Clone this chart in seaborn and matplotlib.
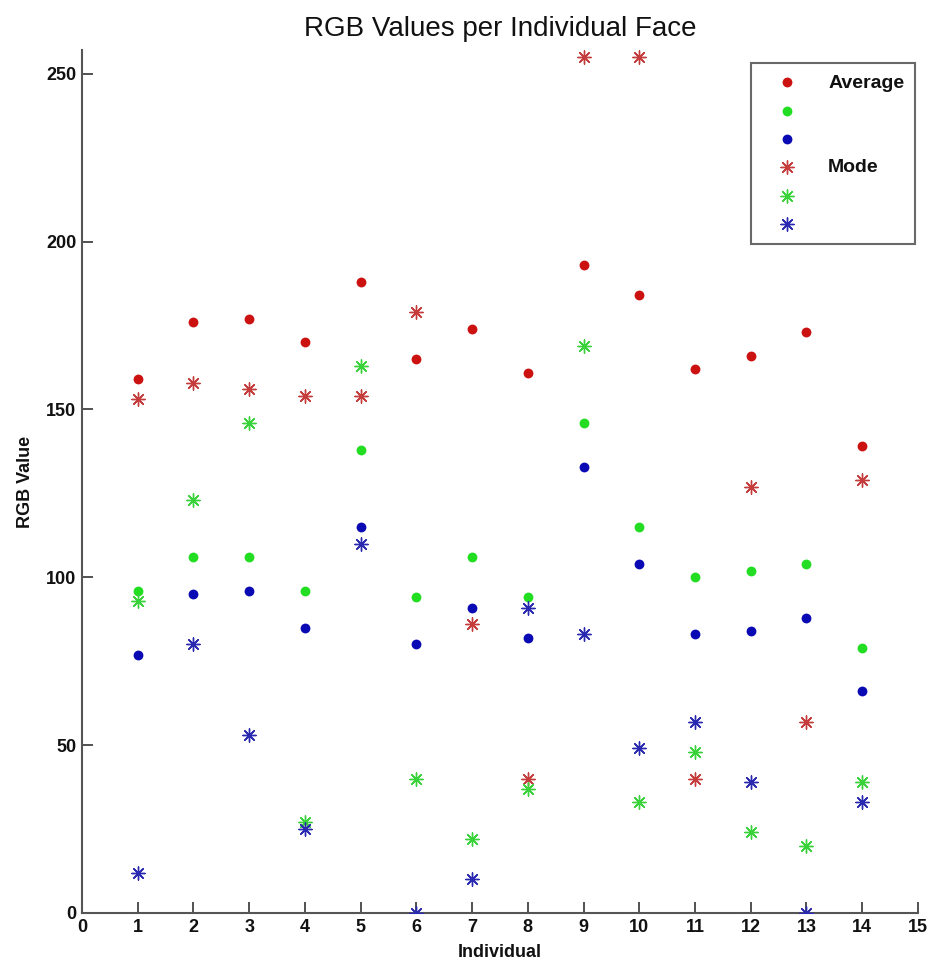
import matplotlib
matplotlib.use("Agg")
import matplotlib.pyplot as plt
import numpy as np
import seaborn as sns
import pandas as pd

# values
individuals = list(range(1, 15))
avg_r = [159, 176, 177, 170, 188, 165, 174, 161, 193, 184, 162, 166, 173, 139]
avg_g = [96, 106, 106, 96, 138, 94, 106, 94, 146, 115, 100, 102, 104, 79]
avg_b = [77, 95, 96, 85, 115, 80, 91, 82, 133, 104, 83, 84, 88, 66]
mode_r = [153, 158, 156, 154, 154, 179, 86, 40, 255, 255, 40, 127, 57, 129]
mode_g = [93, 123, 146, 27, 163, 40, 22, 37, 169, 33, 48, 24, 20, 39]
mode_b = [12, 80, 53, 25, 110, 0, 10, 91, 83, 49, 57, 39, 0, 33]
legend_labels = ["Average", "", "", "Mode", "", ""]

sns.set_style("white")
plt.rcParams['font.family'] = ['Liberation Sans', 'DejaVu Sans']
plt.rcParams['text.color'] = '#111111'

fig = plt.figure(figsize=(9.35, 9.66), dpi=100)
ax = fig.add_axes([0.0877, 0.0549, 0.894, 0.893])

dot_cols = ['#cc1111', '#22dd22', '#0a0ab4']
star_cols = ['#c43c3c', '#3ad23a', '#2a2ab0']
series = [(avg_r, 'o', dot_cols[0]), (avg_g, 'o', dot_cols[1]), (avg_b, 'o', dot_cols[2]),
          (mode_r, (8, 2, 0), star_cols[0]), (mode_g, (8, 2, 0), star_cols[1]),
          (mode_b, (8, 2, 0), star_cols[2])]

handles = []
for vals, mk, col in series:
    df = pd.DataFrame({'Individual': individuals, 'RGB Value': vals})
    if mk == 'o':
        sns.scatterplot(data=df, x='Individual', y='RGB Value', marker='o', color=col,
                        s=50, edgecolor=col, linewidth=0, ax=ax, zorder=3)
    else:
        sns.scatterplot(data=df, x='Individual', y='RGB Value', marker=mk, color=col,
                        s=90, linewidth=1.0, ax=ax, zorder=3)
    handles.append(ax.collections[-1])

ax.set_xlim(0, 15)
ax.set_ylim(0, 257)
ax.set_xticks(range(0, 16))
ax.set_yticks(range(0, 251, 50))
ax.tick_params(bottom=True, left=True, direction='in', length=8, width=1.2,
               color='#333333', labelsize=13, labelcolor='#111111', pad=4)
for lab in ax.get_xticklabels() + ax.get_yticklabels():
    lab.set_fontweight('bold')
for side in ['top', 'right']:
    ax.spines[side].set_visible(False)
for side in ['left', 'bottom']:
    ax.spines[side].set_color('#555555')
    ax.spines[side].set_linewidth(1.5)

ax.set_title("RGB Values per Individual Face", fontsize=20, pad=10, color='#111111')
ax.set_xlabel("Individual", fontsize=13, fontweight='bold', color='#111111')
ax.set_ylabel("RGB Value", fontsize=13, fontweight='bold', color='#111111')
ax.xaxis.set_label_coords(0.5, -0.036)
ax.yaxis.set_label_coords(-0.058, 0.5)

leg = ax.legend(handles, legend_labels, loc='upper right', bbox_to_anchor=(0.9964, 0.985),
                fancybox=False, frameon=True, prop={'weight': 'bold', 'size': 14},
                labelspacing=0.55, handletextpad=0.8, borderpad=0.55, borderaxespad=0,
                handlelength=2.6)
leg.get_frame().set_edgecolor('#444444')
leg.get_frame().set_linewidth(1.5)
for t in leg.get_texts():
    t.set_color('#111111')

fig.savefig("out.png", dpi=100)
